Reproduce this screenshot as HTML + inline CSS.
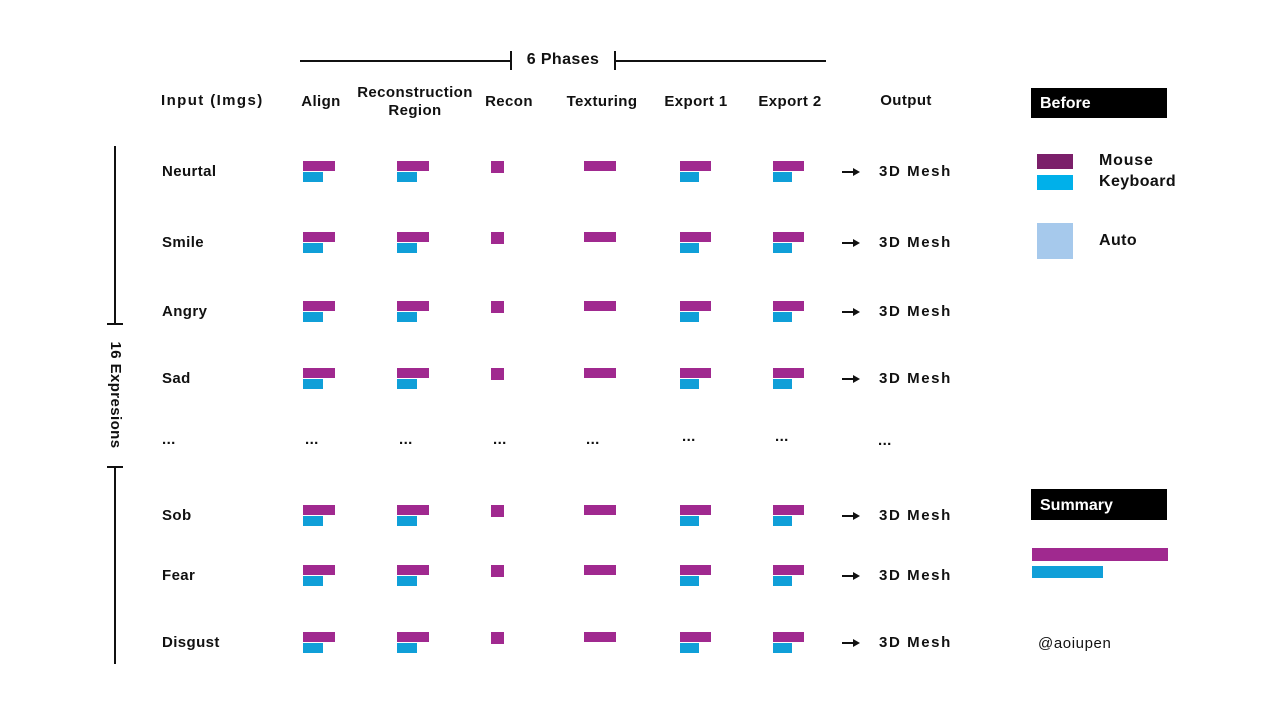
<!DOCTYPE html>
<html><head><meta charset="utf-8">
<style>
body{margin:0;width:1280px;height:720px;background:#fff;position:relative;overflow:hidden;font-family:"Liberation Sans","Noto Sans CJK KR",sans-serif;font-weight:bold;color:#111}
.t{position:absolute;font-size:15px;white-space:nowrap;line-height:18px;letter-spacing:0.4px}
.c{transform:translateX(-50%);text-align:center}
.ln{position:absolute;background:#111}
</style></head><body>
<div class="ln" style="left:300px;top:60px;width:211px;height:2px"></div>
<div class="ln" style="left:510px;top:51px;width:2px;height:19px"></div>
<div class="t c" style="left:563px;top:51px;font-size:16px">6 Phases</div>
<div class="ln" style="left:614px;top:51px;width:2px;height:19px"></div>
<div class="ln" style="left:614px;top:60px;width:212px;height:2px"></div>

<div class="t" style="left:161px;top:92px;letter-spacing:1.4px">Input (Imgs)</div>
<div class="t c" style="left:321px;top:93px">Align</div>
<div class="t c" style="left:415px;top:84px">Reconstruction<br>Region</div>
<div class="t c" style="left:509px;top:93px">Recon</div>
<div class="t c" style="left:602px;top:93px">Texturing</div>
<div class="t c" style="left:696px;top:93px">Export 1</div>
<div class="t c" style="left:790px;top:93px">Export 2</div>
<div class="t c" style="left:906px;top:92px">Output</div>

<div class="ln" style="left:114px;top:146px;width:2px;height:178px"></div>
<div class="ln" style="left:107px;top:323px;width:16px;height:2px"></div>
<div class="t" style="left:115px;top:395px;transform:translate(-50%,-50%) rotate(90deg)">16 Expresions</div>
<div class="ln" style="left:107px;top:466px;width:16px;height:2px"></div>
<div class="ln" style="left:114px;top:466px;width:2px;height:198px"></div>

<div style="position:absolute;left:1031px;top:88px;width:136px;height:30px;background:#000;color:#fff;font-size:16px;line-height:32px;text-indent:9px">Before</div>
<div style="position:absolute;left:1037px;top:154px;width:36px;height:15px;background:#7B1F6A"></div>
<div style="position:absolute;left:1037px;top:175px;width:36px;height:15px;background:#00B0EA"></div>
<div class="t" style="left:1099px;top:152px;font-size:16px;letter-spacing:0.8px">Mouse</div>
<div class="t" style="left:1099px;top:173px;font-size:16px">Keyboard</div>
<div style="position:absolute;left:1037px;top:223px;width:36px;height:36px;background:#A6C9EC"></div>
<div class="t" style="left:1099px;top:232px;font-size:16px">Auto</div>

<div style="position:absolute;left:1031px;top:489px;width:136px;height:31px;background:#000;color:#fff;font-size:16px;line-height:33px;text-indent:9px">Summary</div>
<div id="sumM" style="position:absolute;left:1032px;top:548px;height:13px;background:#A0298F"></div>
<div id="sumK" style="position:absolute;left:1032px;top:566px;height:12px;background:#109FD8"></div>
<div class="t" style="left:1038px;top:635px;font-weight:normal;letter-spacing:0.6px">@aoiupen</div>

<div id="rows"></div>
<script>
const expressions=["Neurtal","Smile","Angry","Sad","...","Sob","Fear","Disgust"];
const phases=["Align","Reconstruction Region","Recon","Texturing","Export 1","Export 2"];
const mouseVals=[32,32,13,32,31,31];
const keyVals=[20,20,0,0,19,19];
const summaryVals=[136,71];

const rowTop=[161,232,301,368,null,505,565,632];
const colX=[303,397,491,584,680,773];
const root=document.getElementById('rows');
function el(cls,style){const d=document.createElement('div');if(cls)d.className=cls;d.style.cssText=style;root.appendChild(d);return d;}
expressions.forEach((name,i)=>{
  const isDots=name==="...";
  const y=isDots?431:rowTop[i];
  const lab=el('t','left:162px;top:'+(isDots?y:y+2)+'px');
  lab.textContent=name;
  
  
  if(isDots){
    colX.forEach((x,j)=>{const d=el('t','left:'+(x+2)+'px;top:'+(j>=4?y-3:y)+'px');d.textContent='...';
      
      });
    const o=el('t','left:878px;top:'+(y+1)+'px');o.textContent='...';
    
    
    return;
  }
  phases.forEach((p,j)=>{
    const m=mouseVals[j],k=keyVals[j];
    const mh=k===0&&m<20?12:10;
    const b=el('','position:absolute;left:'+colX[j]+'px;top:'+y+'px;width:'+m+'px;height:'+mh+'px;background:#A0298F');
    
    
    if(k>0){const kb=el('','position:absolute;left:'+colX[j]+'px;top:'+(y+11)+'px;width:'+k+'px;height:10px;background:#109FD8');
      
      }
  });
  const a=el('','position:absolute;left:842px;top:'+(y+10)+'px;width:12px;height:2px;background:#111');
  
  
  const ah=el('','position:absolute;left:853px;top:'+(y+7)+'px;width:0;height:0;border-left:7px solid #111;border-top:4px solid transparent;border-bottom:4px solid transparent');
  
  
  const o=el('t','left:879px;top:'+(y+2)+'px;letter-spacing:1.6px');o.textContent='3D Mesh';
  
  
});
document.getElementById('sumM').style.width=summaryVals[0]+'px';
document.getElementById('sumK').style.width=summaryVals[1]+'px';
</script>
</body></html>
